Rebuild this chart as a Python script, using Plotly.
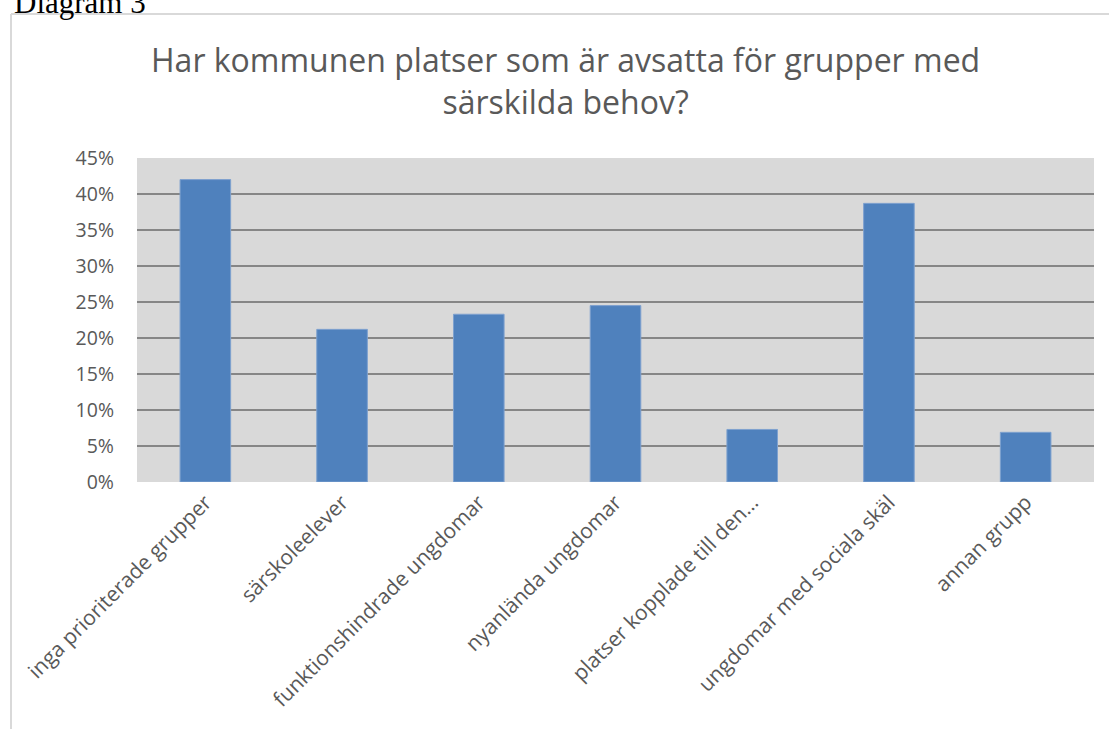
import plotly.graph_objects as go

categories = ["inga prioriterade grupper", "särskoleelever", "funktionshindrade ungdomar",
              "nyanlända ungdomar", "platser kopplade till den…", "ungdomar med sociala skäl",
              "annan grupp"]
values = [0.420, 0.212, 0.233, 0.245, 0.073, 0.387, 0.069]
tick_vals = [0, 0.05, 0.10, 0.15, 0.20, 0.25, 0.30, 0.35, 0.40, 0.45]
tick_text = ["0%", "5%", "10%", "15%", "20%", "25%", "30%", "35%", "40%", "45%"]

W, H = 1109, 729
L, R, T, B = 137, 1094, 158, 482
pw, ph = R - L, B - T

def px(x):
    return (x - L) / pw

def py(y):
    return (B - y) / ph

fig = go.Figure()
fig.add_trace(go.Bar(
    x=categories, y=values,
    marker=dict(color="#4f81bd", line=dict(color="#7ea1cf", width=1)),
    width=0.37,
))

fig.update_layout(
    width=W, height=H,
    margin=dict(l=L, r=W - R, t=T, b=H - B, pad=0),
    paper_bgcolor="white",
    plot_bgcolor="#d9d9d9",
    showlegend=False,
    font=dict(family="Open Sans", color="#595959"),
    xaxis=dict(
        tickangle=-45, tickfont=dict(family="Open Sans", size=21, color="#595959"),
        showgrid=False, showline=False, ticks="", ticklen=0, ticklabelstandoff=3,
        automargin=False,
    ),
    yaxis=dict(
        range=[0, 0.45], tickvals=tick_vals, ticktext=tick_text,
        tickfont=dict(family="Open Sans", size=19.5, color="#595959"),
        showgrid=True, gridcolor="#868686", gridwidth=1.5,
        zeroline=False, showline=False, ticks="", ticklabelstandoff=22,
        automargin=False,
    ),
    annotations=[
        dict(text="Har kommunen platser som är avsatta för grupper med<br>särskilda behov?",
             xref="paper", yref="paper", x=px(565), y=py(80), xanchor="center", yanchor="middle",
             showarrow=False, font=dict(family="Open Sans", size=32, color="#595959")),
        dict(text="Diagram 3", xref="paper", yref="paper", x=px(12), y=py(2),
             xanchor="left", yanchor="middle", showarrow=False,
             font=dict(family="Liberation Serif", size=31, color="black")),
    ],
    shapes=[
        dict(type="line", xref="paper", yref="paper", x0=px(11), x1=px(11), y0=py(14), y1=py(760),
             line=dict(color="#d9d9d9", width=2)),
        dict(type="line", xref="paper", yref="paper", x0=px(11), x1=px(1140), y0=py(14), y1=py(14),
             line=dict(color="#d9d9d9", width=2)),
    ],
)

fig.write_html("out.html", config={"displayModeBar": False},
               post_script="document.body.style.margin='0';document.body.style.overflow='hidden';")
